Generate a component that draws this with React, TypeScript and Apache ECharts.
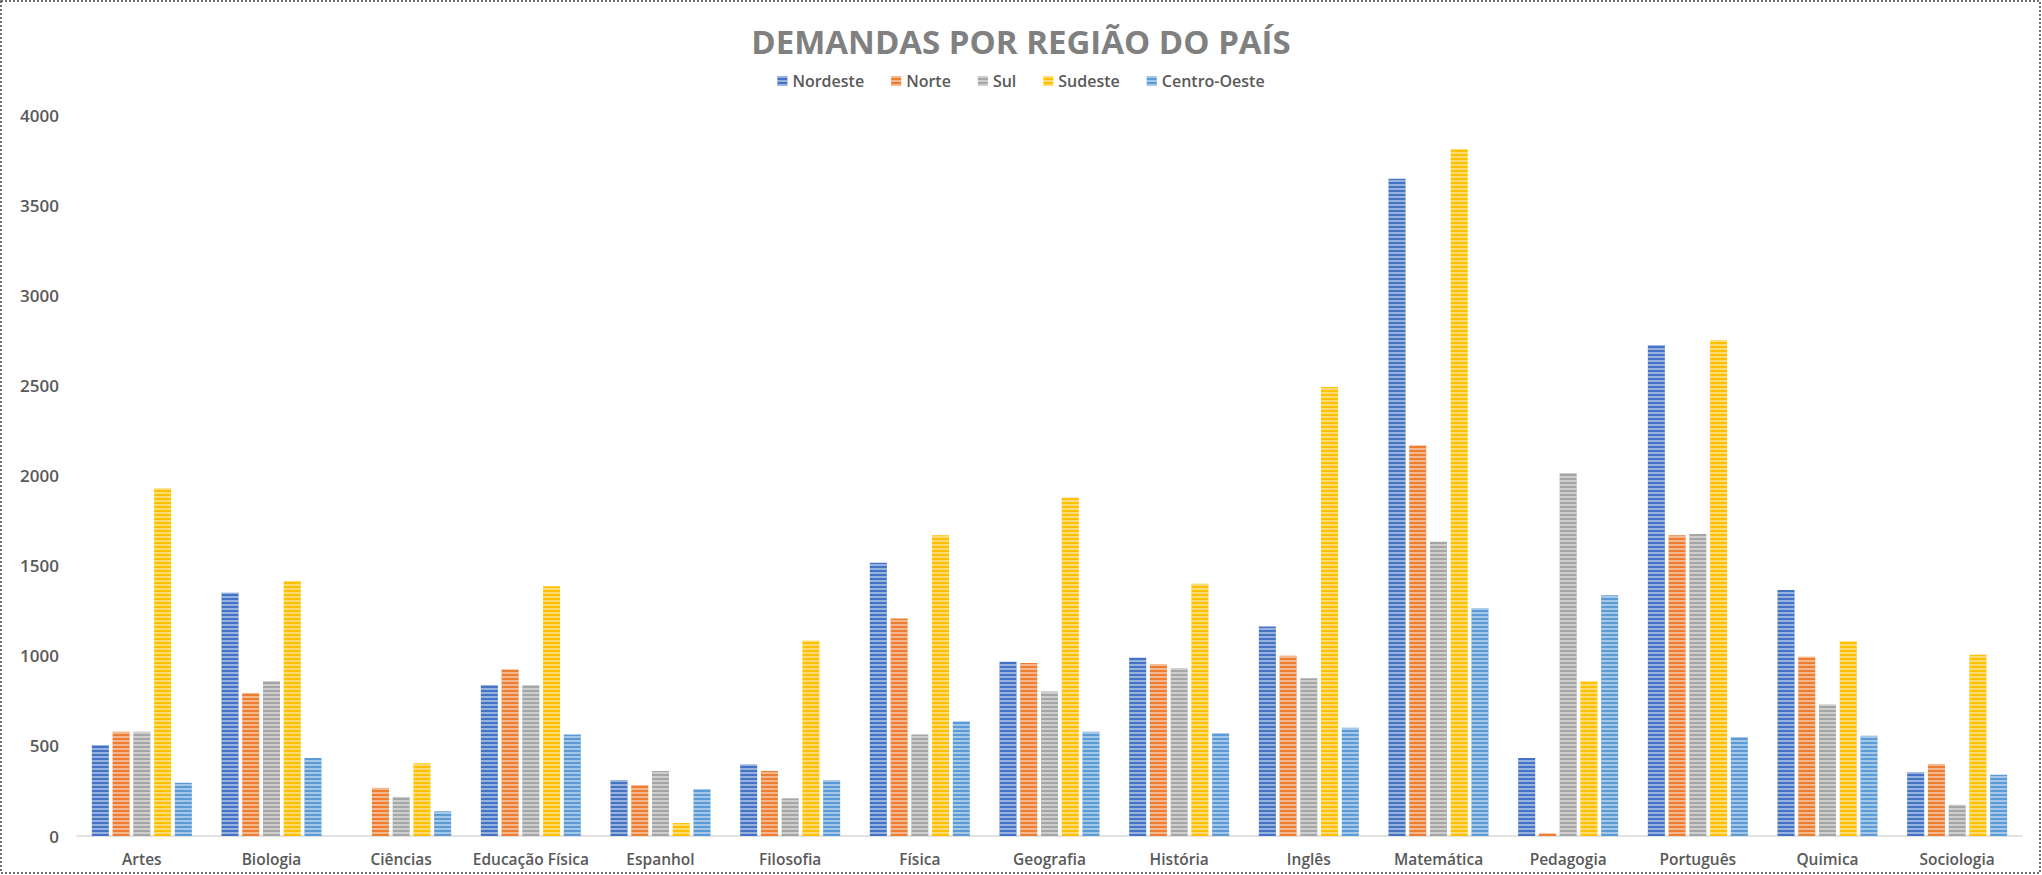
import React, { useEffect, useRef } from "react";
import * as echarts from "echarts";

const categories = [
  "Artes", "Biologia", "Ciências", "Educação Física", "Espanhol", "Filosofia", "Física",
  "Geografia", "História", "Inglês", "Matemática", "Pedagogia", "Português", "Quimica", "Sociologia",
];
const seriesNames = ["Nordeste", "Norte", "Sul", "Sudeste", "Centro-Oeste"];
const nordeste = [505, 1350, 0, 838, 310, 397, 1516, 967, 989, 1162, 3646, 433, 2722, 1365, 354];
const norte = [578, 794, 267, 924, 282, 361, 1206, 960, 953, 1000, 2166, 14, 1668, 995, 400];
const sul = [578, 859, 217, 838, 361, 209, 563, 801, 931, 875, 1632, 2014, 1675, 729, 173];
const sudeste = [1928, 1415, 404, 1386, 72, 1083, 1668, 1877, 1400, 2491, 3812, 859, 2751, 1080, 1005];
const centroOeste = [296, 433, 137, 563, 260, 310, 635, 578, 570, 600, 1264, 1336, 549, 556, 340];
const yTicks = { min: 0, max: 4000, interval: 500 };
const colors = ["#4472C4", "#ED7D31", "#A5A5A5", "#FFC000", "#5B9BD5"];

export default function App() {
  const ref = useRef<HTMLDivElement>(null);
  useEffect(() => {
    document.body.style.margin = "0";
    const chart = echarts.init(ref.current!, null, { renderer: "svg" });
    const data = [nordeste, norte, sul, sudeste, centroOeste];
    chart.setOption({
      animation: false,
      backgroundColor: "#ffffff",
      title: {
        text: "DEMANDAS POR REGIÃO DO PAÍS",
        left: "center",
        top: 20,
        textStyle: {
          fontFamily: "Open Sans",
          fontSize: 33,
          fontWeight: "bold",
          color: "#808080",
        },
      },
      legend: {
        top: 68,
        left: "center",
        itemWidth: 10,
        itemHeight: 10,
        itemGap: 27,
        icon: "rect",
        textStyle: { fontFamily: "Open Sans", fontSize: 16, color: "#595959", fontWeight: 600 },
        data: seriesNames,
      },
      grid: { left: 77, right: 20, top: 115, bottom: 39, containLabel: false },
      xAxis: {
        type: "category",
        data: categories,
        axisLine: { lineStyle: { color: "#d9d9d9", width: 1.5 } },
        axisTick: { show: false },
        axisLabel: {
          interval: 0,
          fontFamily: "Open Sans",
          fontSize: 15.5,
          fontWeight: 600,
          color: "#595959",
          margin: 15,
        },
      },
      yAxis: {
        type: "value",
        min: yTicks.min,
        max: yTicks.max,
        interval: yTicks.interval,
        splitLine: { show: false },
        axisLine: { show: false },
        axisTick: { show: false },
        axisLabel: {
          fontFamily: "Open Sans",
          fontSize: 17,
          fontWeight: 600,
          color: "#595959",
          margin: 18,
          formatter: (v: number) => String(v),
        },
      },
      series: seriesNames.map((name, i) => ({
        name,
        type: "bar",
        data: data[i],
        barWidth: 17,
        barGap: "22%",
        itemStyle: {
          color: colors[i],
          borderWidth: 0,
          decal: {
            symbol: "rect",
            symbolSize: 1,
            dashArrayX: [1, 0],
            dashArrayY: [2, 2],
            rotation: 0,
            color: "rgba(255,255,255,0.45)",
          },
        },
      })),
      graphic: [
        {
          type: "rect",
          shape: { x: 1, y: 1, width: 2039, height: 872 },
          style: { fill: "none", stroke: "#404040", lineWidth: 1.5, lineDash: [2, 2] },
          silent: true,
        },
      ],
    });
    return () => chart.dispose();
  }, []);
  return <div ref={ref} style={{ width: 2042, height: 875 }} />;
}
